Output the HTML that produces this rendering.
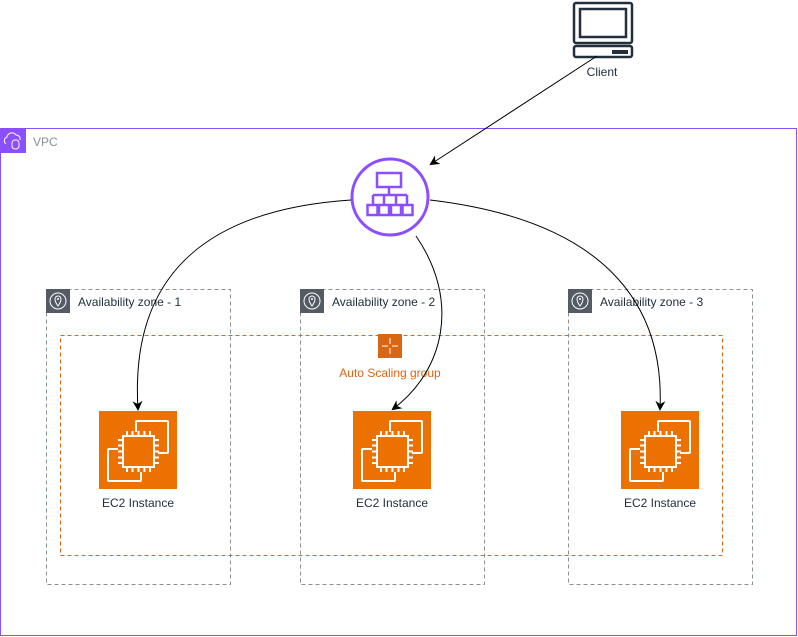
<!DOCTYPE html>
<html><head><meta charset="utf-8"><style>
html,body{margin:0;padding:0;background:#fff;}
svg{display:block;font-family:"Liberation Sans",Arial,sans-serif;}
</style></head><body>
<svg width="798" height="637" viewBox="0 0 798 637" xmlns="http://www.w3.org/2000/svg">
<defs>
<marker id="ah" markerWidth="10" markerHeight="10" refX="8" refY="5" orient="auto" markerUnits="userSpaceOnUse">
<path d="M0,0 L10,5 L0,10 L3,5 Z" fill="#000"/>
</marker>
<g id="ec2">
<rect x="0" y="0" width="78" height="78" fill="#ED7100"/>
<g fill="none" stroke="#fff" stroke-width="2">
<path d="M37,21 V11 a1,1 0 0 1 1,-1 H68 a1,1 0 0 1 1,1 V41 a1,1 0 0 1 -1,1 H59"/>
<path d="M19,38 H10 a1,1 0 0 0 -1,1 V69 a1,1 0 0 0 1,1 H41 a1,1 0 0 0 1,-1 V61"/>
<rect x="24" y="25" width="31" height="31"/>
<path d="M28,25 v-5 M33.5,25 v-5 M39.5,25 v-5 M45.5,25 v-5 M51,25 v-5 M28,56 v5 M33.5,56 v5 M39.5,56 v5 M45.5,56 v5 M51,56 v5 M24,29 h-5 M24,34.5 h-5 M24,40.5 h-5 M24,46.5 h-5 M24,52 h-5 M55,29 h5 M55,34.5 h5 M55,40.5 h5 M55,46.5 h5 M55,52 h5"/>
</g>
</g>
<g id="az">
<rect x="0" y="0" width="24" height="24" fill="#545B64"/>
<circle cx="12" cy="12" r="8" fill="none" stroke="#fff" stroke-width="1"/>
<path d="M12,17 C9,13 9,11 9,10 a3,3 0 0 1 6,0 C15,11 15,13 12,17 Z" fill="none" stroke="#fff" stroke-width="1"/>
<circle cx="12" cy="10" r="1" fill="#fff"/>
</g>
</defs>

<rect x="0.5" y="128.5" width="796" height="507" fill="none" stroke="#8C4FFF" stroke-width="1"/>
<rect x="0" y="128" width="26" height="25" fill="#8C4FFF"/>
<path d="M6,144 a4,4 0 0 1 1,-7 a5,5 0 0 1 9,-2 a4,4 0 0 1 4,5" fill="none" stroke="#fff" stroke-width="1"/>
<rect x="12" y="140" width="7" height="9" rx="3" fill="none" stroke="#fff" stroke-width="1"/>
<text x="33" y="146" font-size="12" fill="#879196">VPC</text>

<rect x="46.5" y="289.5" width="184" height="295" fill="none" stroke="#879196" stroke-dasharray="4,3"/>
<use href="#az" x="46" y="289"/>
<text x="78" y="306" font-size="12" fill="#232F3E">Availability zone - 1</text>
<rect x="300.5" y="289.5" width="184" height="295" fill="none" stroke="#879196" stroke-dasharray="4,3"/>
<use href="#az" x="300" y="289"/>
<text x="332" y="306" font-size="12" fill="#232F3E">Availability zone - 2</text>
<rect x="568.5" y="289.5" width="184" height="295" fill="none" stroke="#879196" stroke-dasharray="4,3"/>
<use href="#az" x="568" y="289"/>
<text x="600" y="306" font-size="12" fill="#232F3E">Availability zone - 3</text>

<rect x="60.5" y="335.5" width="662" height="220" fill="none" stroke="#D86613" stroke-dasharray="4,3"/>
<rect x="378" y="334" width="24" height="24" fill="#D86613"/>
<g stroke="#fff" stroke-width="1" fill="none">
<path d="M390,338 v6 M390,348 v6 M382,346 h6 M392,346 h6"/>
</g>
<text x="390" y="377" font-size="12" fill="#D86613" text-anchor="middle">Auto Scaling group</text>

<use href="#ec2" x="99" y="411"/>
<text x="138" y="507" font-size="12" fill="#232F3E" text-anchor="middle">EC2 Instance</text>
<use href="#ec2" x="353" y="411"/>
<text x="392" y="507" font-size="12" fill="#232F3E" text-anchor="middle">EC2 Instance</text>
<use href="#ec2" x="621" y="411"/>
<text x="660" y="507" font-size="12" fill="#232F3E" text-anchor="middle">EC2 Instance</text>

<g fill="none" stroke="#232F3E" stroke-width="2.5">
<rect x="574" y="3" width="58" height="40" rx="2"/>
<rect x="580" y="9" width="46" height="28"/>
<rect x="574" y="46" width="58" height="11" rx="2"/>
</g>
<rect x="612" y="50" width="16" height="4" fill="#232F3E"/>
<text x="602" y="76" font-size="12" fill="#232F3E" text-anchor="middle">Client</text>

<circle cx="390" cy="197" r="38" fill="#fff" stroke="#8C4FFF" stroke-width="3"/>
<g fill="none" stroke="#8C4FFF" stroke-width="2.5">
<rect x="377" y="173" width="24" height="14"/>
<path d="M389,187 v8 M373,195 h34 M373,195 v10 M384,195 v10 M396,195 v10 M407,195 v10"/>
<rect x="367.5" y="205" width="10" height="10"/>
<rect x="379" y="205" width="10" height="10"/>
<rect x="391" y="205" width="10" height="10"/>
<rect x="402.5" y="205" width="10" height="10"/>
</g>

<g fill="none" stroke="#000" stroke-width="1">
<path d="M597,56 L431,164" marker-end="url(#ah)"/>
<path d="M351,200 C200,210 130,280 138,409" marker-end="url(#ah)"/>
<path d="M430,200 C600,220 665,300 660,409" marker-end="url(#ah)"/>
<path d="M416,236 C460,300 445,370 393,409" marker-end="url(#ah)"/>
</g>
</svg>
</body></html>
